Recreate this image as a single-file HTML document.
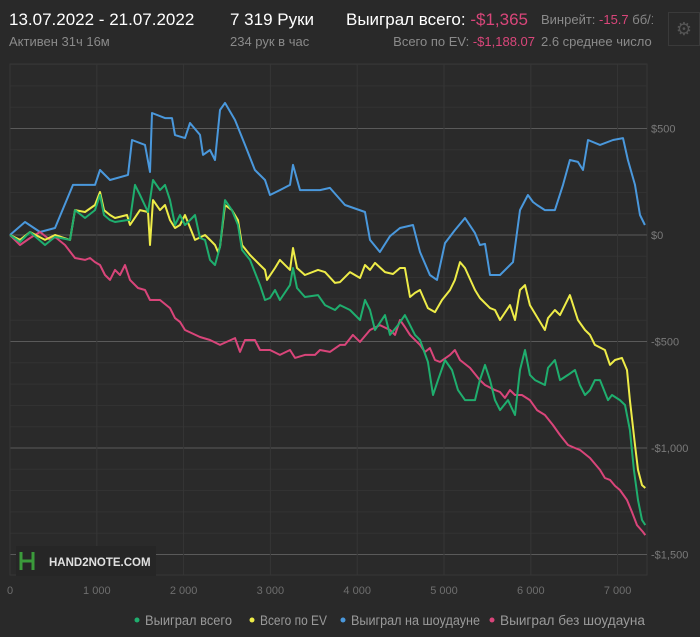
<!DOCTYPE html>
<html><head><meta charset="utf-8">
<style>
body{margin:0;width:700px;height:637px;background:#292929;overflow:hidden;font-family:"Liberation Sans","Noto Sans CJK JP",sans-serif;position:relative}
.t{position:absolute;white-space:nowrap}
.big{font-size:17px;color:#fff}
.sm{font-size:13px;color:#8a8a8a}
.red{color:#d9467a}
</style></head><body>
<div class="t big" style="left:9px;top:10px">13.07.2022 - 21.07.2022</div>
<div class="t sm" style="left:9px;top:34px">Активен 31ч 16м</div>
<div class="t big" style="left:230px;top:10px">7 319 Руки</div>
<div class="t sm" style="left:230px;top:34px">234 рук в час</div>
<div class="t big" style="left:346px;top:10px">Выиграл всего: <span class="red">-$1,365</span></div>
<div class="t sm" style="right:165px;top:34px">Всего по EV: <span class="red">-$1,188.07</span></div>
<div class="t sm" style="left:541px;top:12px;width:112px;overflow:hidden">Винрейт: <span class="red">-15.7</span> бб/100</div>
<div class="t sm" style="left:541px;top:34px;width:112px;overflow:hidden">2.6 среднее число игроков</div>
<div class="t" style="left:668px;top:12px;width:32px;height:34px;border:1px solid #3a3a3a;box-sizing:border-box;color:#555;font-size:18px;text-align:center;line-height:32px">⚙</div>

<svg id="chart" width="700" height="637" style="position:absolute;left:0;top:0"></svg>

<script>
const xTicks=[0,1000,2000,3000,4000,5000,6000,7000];
const xTickLabels=["0","1 000","2 000","3 000","4 000","5 000","6 000","7 000"];
const yTicks=[500,0,-500,-1000,-1500];
const yTickLabels=["$500","$0","-$500","-$1,000","-$1,500"];
const seriesNames=["Выиграл всего","Всего по EV","Выиграл на шоудауне","Выиграл без шоудауна"];
const totalHands=7319;
const blueData=[[0,0],[173,61],[346,14],[518,33],[726,235],[979,235],[1037,305],[1152,258],[1359,282],[1405,446],[1555,423],[1613,296],[1636,573],[1786,549],[1866,549],[1901,469],[2016,455],[2074,526],[2189,470],[2223,376],[2304,399],[2362,352],[2419,587],[2477,620],[2592,540],[2707,423],[2822,305],[2938,258],[2995,188],[3110,211],[3226,235],[3260,329],[3341,211],[3571,211],[3686,221],[3859,141],[4090,108],[4147,-23],[4262,-80],[4378,-5],[4493,33],[4643,47],[4723,-80],[4838,-188],[4919,-211],[5011,-38],[5126,23],[5242,80],[5357,9],[5414,-47],[5472,-42],[5530,-188],[5645,-188],[5795,-127],[5875,117],[5967,188],[6025,155],[6071,141],[6163,117],[6278,117],[6371,235],[6451,352],[6543,343],[6601,305],[6659,446],[6797,423],[6947,446],[7062,455],[7119,352],[7200,235],[7258,94],[7315,47]];
const yellowData=[[0,0],[115,-23],[230,14],[403,-23],[518,0],[691,-23],[749,117],[864,108],[979,141],[1037,202],[1083,117],[1152,94],[1210,80],[1348,94],[1382,47],[1498,117],[1590,108],[1613,-47],[1647,164],[1728,117],[1786,141],[1843,70],[1901,33],[1958,47],[2016,94],[2131,-23],[2246,0],[2304,-23],[2362,-47],[2396,-80],[2419,-56],[2477,141],[2557,117],[2627,70],[2673,-47],[2765,-94],[2880,-141],[2938,-164],[2961,-211],[3053,-155],[3110,-117],[3226,-164],[3260,-61],[3306,-155],[3398,-188],[3548,-164],[3629,-174],[3744,-225],[3802,-221],[3917,-174],[4032,-202],[4090,-141],[4147,-164],[4205,-131],[4320,-174],[4412,-183],[4493,-155],[4550,-155],[4608,-291],[4666,-272],[4723,-258],[4815,-343],[4896,-362],[4977,-305],[5069,-258],[5126,-211],[5184,-127],[5242,-155],[5357,-258],[5414,-296],[5530,-343],[5587,-352],[5645,-399],[5760,-329],[5818,-399],[5875,-258],[5933,-235],[5990,-329],[6106,-408],[6163,-446],[6198,-390],[6278,-352],[6336,-376],[6451,-282],[6543,-399],[6624,-446],[6682,-469],[6739,-516],[6854,-540],[6912,-610],[6970,-587],[7050,-577],[7108,-634],[7142,-775],[7200,-986],[7235,-1103],[7281,-1174],[7319,-1188]];
const greenData=[[0,0],[115,-33],[230,14],[403,-47],[518,-9],[691,-23],[749,117],[864,80],[979,117],[1037,188],[1083,94],[1152,70],[1210,61],[1348,70],[1382,70],[1440,235],[1498,188],[1590,108],[1613,164],[1647,258],[1728,211],[1786,235],[1843,164],[1901,47],[1958,94],[2016,47],[2074,70],[2131,94],[2189,-14],[2246,-23],[2304,-117],[2362,-141],[2419,-56],[2477,164],[2557,117],[2627,47],[2673,-70],[2765,-117],[2880,-235],[2938,-305],[2995,-296],[3053,-258],[3110,-305],[3226,-235],[3260,-155],[3306,-249],[3398,-291],[3548,-282],[3629,-329],[3744,-352],[3802,-329],[3917,-352],[4032,-399],[4090,-305],[4147,-352],[4205,-446],[4320,-376],[4378,-469],[4470,-423],[4550,-376],[4608,-423],[4666,-469],[4723,-493],[4815,-596],[4873,-751],[4931,-681],[5011,-587],[5092,-634],[5161,-728],[5242,-775],[5357,-775],[5414,-681],[5472,-610],[5530,-681],[5587,-775],[5645,-822],[5737,-775],[5818,-845],[5875,-634],[5933,-540],[5990,-657],[6048,-681],[6163,-704],[6198,-624],[6278,-587],[6336,-681],[6428,-657],[6509,-634],[6566,-704],[6624,-751],[6682,-728],[6739,-681],[6797,-681],[6889,-775],[6935,-751],[7027,-775],[7085,-798],[7142,-916],[7188,-1103],[7235,-1244],[7281,-1338],[7319,-1362]];
const pinkData=[[0,0],[115,-47],[230,-14],[346,14],[461,-23],[518,-9],[634,-47],[749,-108],[864,-117],[922,-108],[979,-127],[1037,-141],[1094,-188],[1152,-211],[1210,-164],[1267,-188],[1325,-141],[1382,-211],[1475,-249],[1555,-258],[1613,-305],[1728,-305],[1843,-343],[1901,-390],[1958,-408],[2016,-446],[2189,-479],[2304,-493],[2419,-516],[2592,-484],[2650,-549],[2707,-493],[2822,-493],[2880,-540],[2995,-540],[3110,-563],[3226,-540],[3283,-577],[3398,-563],[3514,-563],[3571,-540],[3686,-549],[3802,-516],[3859,-516],[3951,-469],[4032,-502],[4147,-446],[4262,-423],[4378,-446],[4435,-469],[4493,-399],[4550,-432],[4608,-469],[4723,-516],[4781,-549],[4838,-531],[4896,-587],[4954,-596],[5069,-563],[5126,-540],[5184,-587],[5299,-624],[5414,-681],[5472,-704],[5587,-728],[5645,-737],[5702,-765],[5760,-728],[5818,-751],[5898,-751],[5990,-775],[6071,-822],[6163,-845],[6255,-892],[6336,-939],[6428,-986],[6509,-1000],[6566,-1009],[6682,-1047],[6797,-1103],[6854,-1141],[6912,-1150],[6970,-1178],[7027,-1197],[7108,-1244],[7165,-1300],[7223,-1362],[7292,-1394],[7319,-1409]];

const svg=document.getElementById('chart');
const NS='http://www.w3.org/2000/svg';
const L=10,R=647,T=64,B=575;
const X0=10,XK=0.0868;
const Y0=235,YK=106.5/500;
function sx(v){return X0+v*XK;}
function sy(v){return Y0-v*YK;}
function mk(tag,attrs){const e=document.createElementNS(NS,tag);for(const k in attrs)e.setAttribute(k,attrs[k]);svg.appendChild(e);return e;}

let bg=mk('rect',{x:L,y:T,width:R-L,height:B-T,fill:'#2a2a2a',stroke:'#363636'});


for(let v=800;v>=-1600;v-=100){const y=sy(v);if(y<T||y>B)continue;
 let g=mk('line',{x1:L,x2:R,y1:y,y2:y,stroke:v%500===0?'#5a5a5a':'#333333','stroke-width':1});
 
 }
xTicks.forEach((t,i)=>{const x=sx(t);
 let g=mk('line',{x1:x,x2:x,y1:T,y2:B,stroke:'#363636'});
 
 
 let tx=mk('text',{x:x,y:594,fill:'#6e6e6e','font-size':11,'text-anchor':'middle','font-family':'Liberation Sans, sans-serif'});
 tx.textContent=xTickLabels[i];
 
 });
yTicks.forEach((t,i)=>{
 let tx=mk('text',{x:651,y:sy(t)+4,fill:'#7a7a7a','font-size':11,'font-family':'Liberation Sans, sans-serif'});
 tx.textContent=yTickLabels[i];
 
 });

let lb=mk('rect',{x:16,y:546,width:140,height:30,fill:'#262626'});


let lg=mk('path',{d:'M21 552 v18 M33 552 v18 M21 561 L33 561',stroke:'#3b9a3b','stroke-width':3,fill:'none'});


let lt=mk('text',{x:49,y:566,fill:'#e0e0e0','font-size':11.5,'font-weight':'bold','font-family':'Liberation Sans, sans-serif'});
lt.textContent='HAND2NOTE.COM';



const series=[[blueData,'#4a98dc','line-showdown'],[pinkData,'#d9457a','line-no-showdown'],[yellowData,'#eeec48','line-ev'],[greenData,'#1fae6e','line-total']];
series.forEach(([d,c,n])=>{
 const p=d.map((q,i)=>(i?'L':'M')+sx(q[0]).toFixed(1)+' '+sy(q[1]).toFixed(1)).join(' ');
 let e=mk('path',{d:p,stroke:c,'stroke-width':2,fill:'none','stroke-linejoin':'round'});
 
 });

const legColors=['#1fae6e','#eeec48','#4a98dc','#d9457a'];
const legX=[137,252,343,492];
const legW=[87,67,129,145];
seriesNames.forEach((s,i)=>{
 let c=mk('circle',{cx:legX[i],cy:620,r:2.5,fill:legColors[i]});
 
 
 let t=mk('text',{x:legX[i]+8,y:625,fill:'#9a9a9a','font-size':13.5,textLength:legW[i],lengthAdjust:'spacingAndGlyphs','font-family':'Liberation Sans, sans-serif'});
 t.textContent=s;
 
 });
</script>
</body></html>
